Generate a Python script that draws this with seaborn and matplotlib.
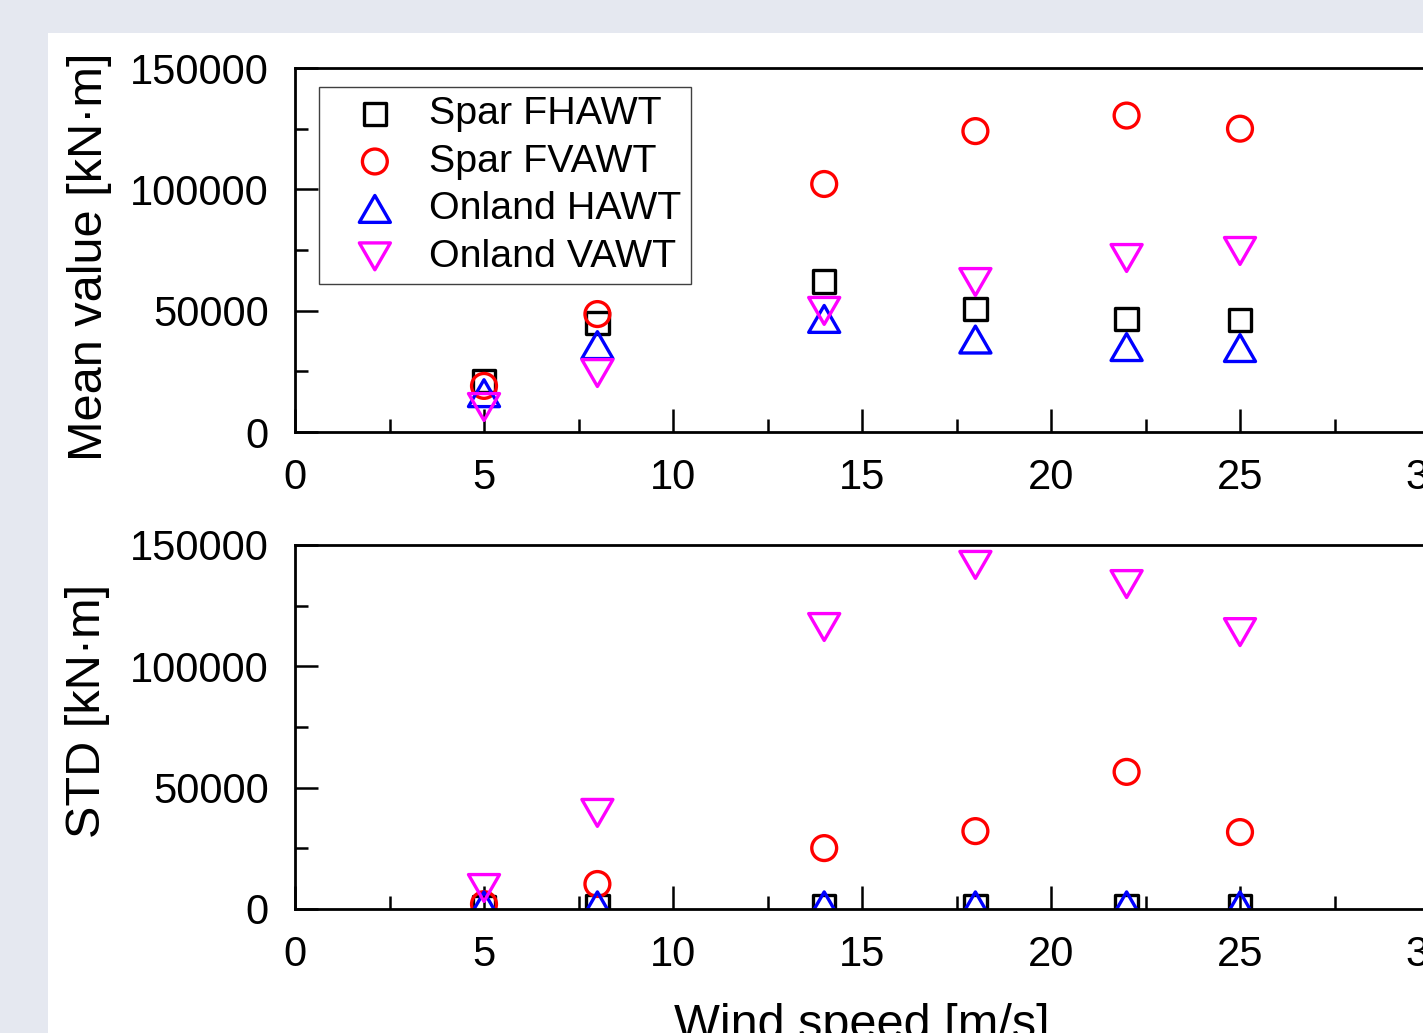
import matplotlib
matplotlib.use("Agg")
import matplotlib.pyplot as plt
from matplotlib.patches import Rectangle
from matplotlib.path import Path
from matplotlib.ticker import MultipleLocator
import seaborn as sns
import pandas as pd

# ---- data ----
wind_speed = [5, 8, 14, 18, 22, 25]
series_names = ["Spar FHAWT", "Spar FVAWT", "Onland HAWT", "Onland VAWT"]
mean_spar_fhawt = [21000, 45000, 62000, 50700, 46600, 46150]
mean_spar_fvawt = [19000, 48600, 102200, 124000, 130400, 125000]
mean_onland_hawt = [16000, 35800, 46600, 38100, 35000, 34600]
mean_onland_vawt = [10300, 24300, 49900, 61800, 71700, 74600]
std_spar_fhawt = [800, 1000, 1000, 1000, 1000, 1000]
std_spar_fvawt = [2000, 10300, 25100, 32100, 56500, 31700]
std_onland_hawt = [1500, 1500, 1500, 1500, 1500, 1500]
std_onland_vawt = [8650, 39600, 116200, 141800, 133900, 114100]
x_ticks = [0, 5, 10, 15, 20, 25, 30]
y_ticks = [0, 50000, 100000, 150000]

# ---- style ----
sns.set_theme(style="white")
plt.rcParams["font.family"] = ["Liberation Sans", "DejaVu Sans"]

colors = ["#000000", "#ff0000", "#0000ff", "#ff00ff"]
codes = [Path.MOVETO, Path.LINETO, Path.LINETO, Path.CLOSEPOLY]
tri_up = Path([(-1, -0.866), (1, -0.866), (0, 0.866), (-1, -0.866)], codes)
tri_dn = Path([(-1, 0.866), (1, 0.866), (0, -0.866), (-1, 0.866)], codes)
markers = ["s", "o", tri_up, tri_dn]
sizes = [260, 320, 500, 500]

W, H, DPI = 1423, 1033, 100
fig = plt.figure(figsize=(W / DPI, H / DPI), dpi=DPI, facecolor="#e5e8f0")
fig.patches.append(Rectangle((48 / W, 0), 1, (H - 33) / H, transform=fig.transFigure,
                             facecolor="white", edgecolor="none", zorder=-10))

left = 295 / W
width = 1134 / W
ax1 = fig.add_axes([left, 1 - 432 / H, width, 364 / H])
ax2 = fig.add_axes([left, 1 - 909 / H, width, 364 / H])

mean_sets = [mean_spar_fhawt, mean_spar_fvawt, mean_onland_hawt, mean_onland_vawt]
std_sets = [std_spar_fhawt, std_spar_fvawt, std_onland_hawt, std_onland_vawt]

for ax, sets in [(ax1, mean_sets), (ax2, std_sets)]:
    for name, vals, c, m, s in zip(series_names, sets, colors, markers, sizes):
        df = pd.DataFrame({"x": wind_speed, "y": vals})
        sns.scatterplot(data=df, x="x", y="y", ax=ax, marker=m, s=s,
                        facecolor="none", edgecolor=c, linewidth=2.4,
                        label=name, legend=False)
    ax.set_xlim(0, 30)
    ax.set_ylim(0, 150000)
    ax.set_xticks(x_ticks)
    ax.set_yticks(y_ticks)
    ax.xaxis.set_minor_locator(MultipleLocator(2.5))
    ax.yaxis.set_minor_locator(MultipleLocator(25000))
    ax.tick_params(axis="both", which="major", direction="in", length=16.5, width=1.8,
                   labelsize=30, color="black", labelcolor="black")
    ax.tick_params(axis="both", which="minor", direction="in", length=9.4, width=1.8,
                   color="black")
    ax.tick_params(axis="x", which="both", bottom=True, top=False, pad=19)
    ax.tick_params(axis="y", which="both", left=True, right=False, pad=19)
    for sp in ax.spines.values():
        sp.set_color("black")
        sp.set_linewidth(2.0)
    ax.set_xlabel("")
    ax.set_facecolor("white")

ax1.set_ylabel("Mean value [kN·m]", fontsize=35, color="black")
ax1.yaxis.set_label_coords(-0.1614, 0.481)
ax2.set_ylabel("STD [kN·m]", fontsize=35, color="black")
ax2.yaxis.set_label_coords(-0.163, 0.544)
ax2.set_xlabel("Wind speed [m/s]", fontsize=35, color="black")
ax2.xaxis.set_label_coords(0.5, -0.258)

handles, labels = ax1.get_legend_handles_labels()
leg = ax1.legend(handles, labels, loc="upper left", bbox_to_anchor=(0.0212, 0.948),
                 borderaxespad=0, fontsize=28.4, frameon=True, fancybox=False,
                 framealpha=1, edgecolor="#404040", borderpad=0.24,
                 handlelength=2.35, handletextpad=0.21, labelspacing=0.29,
                 scatterpoints=1)
leg.get_frame().set_linewidth(1.0)
for t in leg.get_texts():
    t.set_color("black")

fig.savefig("out.png", dpi=DPI, facecolor=fig.get_facecolor())
